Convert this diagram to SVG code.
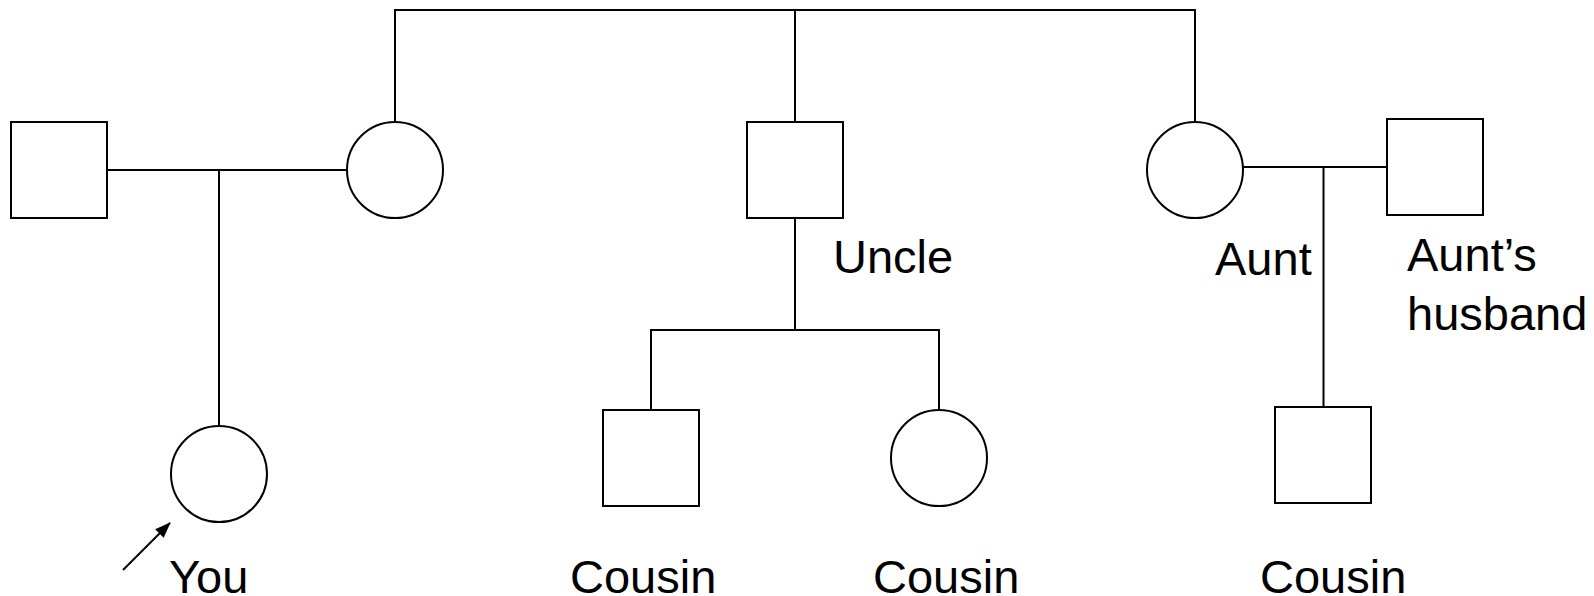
<svg xmlns="http://www.w3.org/2000/svg" width="1594" height="596" viewBox="0 0 1594 596">
<style>
.n{fill:#fff;stroke:#000;stroke-width:2}
.c{fill:none;stroke:#000;stroke-width:2}
.t{font-family:"Liberation Sans",Arial,sans-serif;font-size:47px;fill:#000}
</style>
<defs>
<marker id="ah" markerWidth="16" markerHeight="12" refX="15" refY="6" orient="auto" markerUnits="userSpaceOnUse" viewBox="0 0 16 12">
<path d="M0,0 L16,6 L0,12 Z" fill="#000"/>
</marker>
</defs>
<rect width="1594" height="596" fill="#fff"/>
<g id="connectors">
<path class="c" d="M395,122 V10 H1195 V122"/>
<path class="c" d="M795,10 V122"/>
<path class="c" d="M107,170 H347"/>
<path class="c" d="M219,170 V426"/>
<path class="c" d="M795,218 V330"/>
<path class="c" d="M651,410 V330 H939 V410"/>
<path class="c" d="M1243,167 H1387"/>
<path class="c" d="M1323.5,167 V407"/>
<line x1="123" y1="570" x2="170" y2="523" stroke="#000" stroke-width="2" marker-end="url(#ah)"/>
</g>
<g id="father"><rect class="n" x="11" y="122" width="96" height="96"/></g>
<g id="mother"><circle class="n" cx="395" cy="170" r="48"/></g>
<g id="uncle"><rect class="n" x="747" y="122" width="96" height="96"/><text class="t" x="833" y="273">Uncle</text></g>
<g id="aunt"><circle class="n" cx="1195" cy="170" r="48"/><text class="t" x="1215" y="275">Aunt</text></g>
<g id="aunts-husband"><rect class="n" x="1387" y="119" width="96" height="96"/><text class="t" x="1407" y="271">Aunt’s</text><text class="t" x="1407" y="330">husband</text></g>
<g id="you"><circle class="n" cx="219" cy="474" r="48"/><text class="t" x="169" y="593">You</text></g>
<g id="cousin1"><rect class="n" x="603" y="410" width="96" height="96"/><text class="t" x="570" y="593">Cousin</text></g>
<g id="cousin2"><circle class="n" cx="939" cy="458" r="48"/><text class="t" x="873" y="593">Cousin</text></g>
<g id="cousin3"><rect class="n" x="1275" y="407" width="96" height="96"/><text class="t" x="1260" y="593">Cousin</text></g>
</svg>
